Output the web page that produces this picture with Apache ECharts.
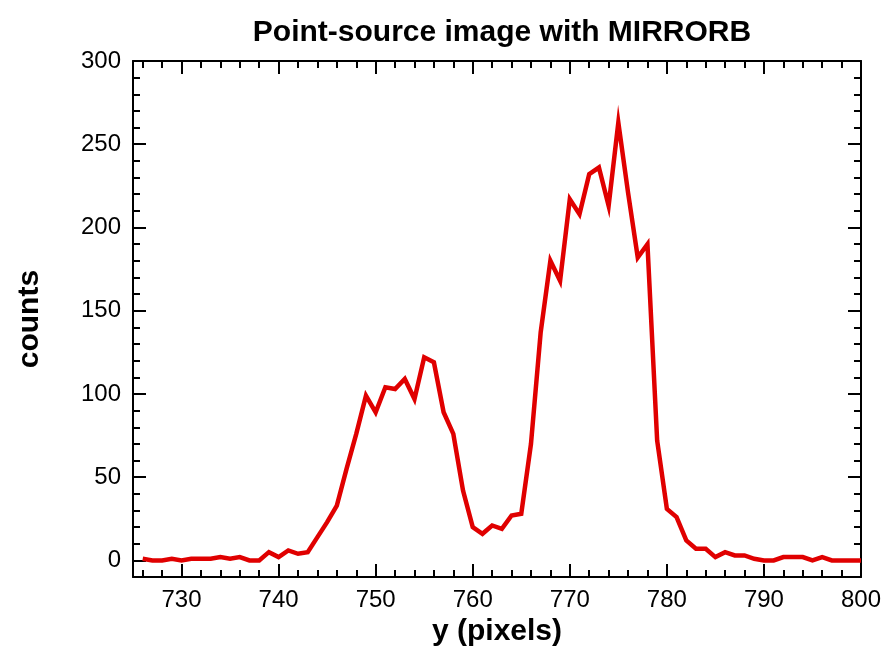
<!DOCTYPE html>
<html>
<head>
<meta charset="utf-8">
<script src="https://cdn.jsdelivr.net/npm/echarts@6/dist/echarts.min.js"></script>
<style>
html,body{margin:0;padding:0;background:#fff;}
#chart{width:886px;height:652px;}
</style>
</head>
<body>
<div id="chart"></div>
<script>
const pixelY = [726,727,728,729,730,731,732,733,734,735,736,737,738,739,740,741,742,743,744,745,746,747,748,749,750,751,752,753,754,755,756,757,758,759,760,761,762,763,764,765,766,767,768,769,770,771,772,773,774,775,776,777,778,779,780,781,782,783,784,785,786,787,788,789,790,791,792,793,794,795,796,797,798,799,800];
const counts = [1,0,0,1,0,1,1,1,2,1,2,0,0,5,2,6,4,5,14,23,33,55,76,99,89,104,103,109,97,122,119,89,76,42,20,16,21,19,27,28,70,137,180,168,217,208,232,236,213,263,221,182,190,72,31,26,12,7,7,2,5,3,3,1,0,0,2,2,2,0,2,0,0,0,0];
const xMajorTicks = [730,740,750,760,770,780,790,800];
const xMinorTicks = [726,728,732,734,736,738,742,744,746,748,752,754,756,758,762,764,766,768,772,774,776,778,782,784,786,788,792,794,796,798];
const yMajorTicks = [0,50,100,150,200,250,300];
const yMinorTicks = [10,20,30,40,60,70,80,90,110,120,130,140,160,170,180,190,210,220,230,240,260,270,280,290];
const title = 'Point-source image with MIRRORB';
const xName = 'y (pixels)';
const yName = 'counts';

const FONT = 'Liberation Sans, Arial, Helvetica, sans-serif';
const chart = echarts.init(document.getElementById('chart'), null, {renderer: 'canvas'});

function xAx(pos, ticks, len, labels, line) {
  return {
    type: 'value', position: pos, min: 725, max: 800,
    splitLine: {show: false},
    axisLine: {show: line, onZero: false, lineStyle: {color: '#000', width: 2}},
    axisTick: {show: true, inside: true, length: len, customValues: ticks, lineStyle: {color: '#000', width: 2}},
    axisLabel: {show: labels, customValues: ticks, color: '#000', fontSize: 24, fontFamily: FONT, margin: 11},
    name: labels ? xName : '', nameLocation: 'middle', nameGap: 38,
    nameTextStyle: {color: '#000', fontSize: 30, fontWeight: 'bold', fontFamily: FONT}
  };
}
function yAx(pos, ticks, len, labels, line) {
  return {
    type: 'value', position: pos, min: -10, max: 300,
    splitLine: {show: false},
    axisLine: {show: line, onZero: false, lineStyle: {color: '#000', width: 2}},
    axisTick: {show: true, inside: true, length: len, customValues: ticks, lineStyle: {color: '#000', width: 2}},
    axisLabel: {show: labels, customValues: ticks, color: '#000', fontSize: 24, fontFamily: FONT, margin: 12},
    name: labels ? yName : '', nameLocation: 'middle', nameGap: 88,
    nameTextStyle: {color: '#000', fontSize: 30, fontWeight: 'bold', fontFamily: FONT}
  };
}

chart.setOption({
  animation: false,
  backgroundColor: '#fff',
  title: {
    text: title, left: 497, textAlign: 'center', top: 13,
    textStyle: {color: '#000', fontSize: 30, fontWeight: 'bold', fontFamily: FONT}
  },
  grid: {left: 133, right: 25, top: 61, bottom: 72, containLabel: false},
  xAxis: [
    xAx('bottom', xMajorTicks, 13, true, true),
    xAx('bottom', xMinorTicks, 7, false, false),
    xAx('top', xMajorTicks, 13, false, true),
    xAx('top', xMinorTicks, 7, false, false)
  ],
  yAxis: [
    yAx('left', yMajorTicks, 13, true, true),
    yAx('left', yMinorTicks, 7, false, false),
    yAx('right', yMajorTicks, 13, false, true),
    yAx('right', yMinorTicks, 7, false, false)
  ],
  series: [{
    type: 'line', xAxisIndex: 0, yAxisIndex: 0,
    data: pixelY.map((x, i) => [x, counts[i]]),
    showSymbol: false, symbol: 'none',
    lineStyle: {color: '#e00000', width: 4.5, join: 'miter'},
    itemStyle: {color: '#e00000'}
  }]
});
</script>
</body>
</html>
